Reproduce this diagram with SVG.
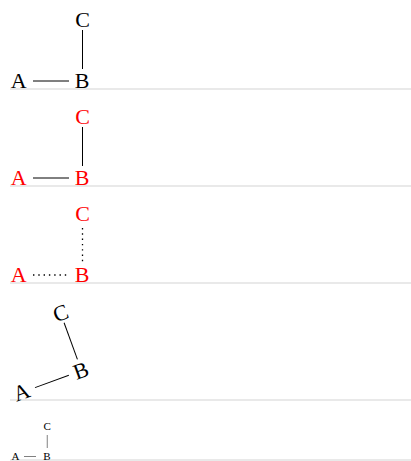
<svg xmlns="http://www.w3.org/2000/svg" width="411" height="461" viewBox="0 0 411 461">
  <style>
    .lbl { font-family: "Liberation Serif", "Times New Roman", serif; font-size: 22px; text-anchor: middle; fill: #000; }
    .red { fill: #ff0000; }
    .edge { stroke: #000; stroke-width: 1; fill: none; }
    .dot { stroke-width: 1.3; stroke-dasharray: 1.4 3.9; }
    .sep { stroke: #d4d4d4; stroke-width: 1.2; }
  </style>
  <g id="separators">
    <line class="sep" x1="10" y1="89" x2="411" y2="89"/>
    <line class="sep" x1="10" y1="186" x2="411" y2="186"/>
    <line class="sep" x1="10" y1="283" x2="411" y2="283"/>
    <line class="sep" x1="10" y1="400" x2="411" y2="400"/>
    <line class="sep" x1="10" y1="460" x2="411" y2="460"/>
  </g>

  <!-- Panel 1 -->
  <g id="panel1">
    <g id="p1-connectors">
      <line class="edge" x1="33" y1="81" x2="69" y2="81"/>
      <line class="edge" x1="82.5" y1="30" x2="82.5" y2="69"/>
    </g>
    <g id="p1-A"><text class="lbl" x="18.8" y="88">A</text></g>
    <g id="p1-B"><text class="lbl" x="82" y="88">B</text></g>
    <g id="p1-C"><text class="lbl" x="82.5" y="27">C</text></g>
  </g>

  <!-- Panel 2 -->
  <g id="panel2" transform="translate(0,97)">
    <g id="p2-connectors">
      <line class="edge" x1="33" y1="81" x2="69" y2="81"/>
      <line class="edge" x1="82.5" y1="30" x2="82.5" y2="69"/>
    </g>
    <g id="p2-A"><text class="lbl red" x="18.8" y="88">A</text></g>
    <g id="p2-B"><text class="lbl red" x="82" y="88">B</text></g>
    <g id="p2-C"><text class="lbl red" x="82.5" y="27">C</text></g>
  </g>

  <!-- Panel 3 -->
  <g id="panel3" transform="translate(0,194)">
    <g id="p3-connectors">
      <line class="edge dot" x1="33" y1="81" x2="69" y2="81"/>
      <line class="edge dot" x1="82.5" y1="34" x2="82.5" y2="69"/>
    </g>
    <g id="p3-A"><text class="lbl red" x="18.8" y="88">A</text></g>
    <g id="p3-B"><text class="lbl red" x="82" y="88">B</text></g>
    <g id="p3-C"><text class="lbl red" x="82.5" y="27">C</text></g>
  </g>

  <!-- Panel 4 (rotated) -->
  <g id="panel4" transform="translate(21.5,392) rotate(-20) translate(-18.8,-80.5)">
    <g id="p4-connectors">
      <line class="edge" x1="33" y1="81" x2="69" y2="81"/>
      <line class="edge" x1="82.5" y1="30" x2="82.5" y2="69"/>
    </g>
    <g id="p4-A"><text class="lbl" x="18.8" y="88">A</text></g>
    <g id="p4-B"><text class="lbl" x="82" y="88">B</text></g>
    <g id="p4-C"><text class="lbl" x="82.5" y="27">C</text></g>
  </g>

  <!-- Panel 5 (scaled) -->
  <g id="panel5" transform="translate(6,416) scale(0.5)">
    <g id="p5-connectors">
      <line class="edge" x1="36" y1="81" x2="60" y2="81" stroke-width="2"/>
      <line class="edge" x1="82.5" y1="38" x2="82.5" y2="64" stroke-width="2"/>
    </g>
    <g id="p5-A"><text class="lbl" x="18.8" y="88">A</text></g>
    <g id="p5-B"><text class="lbl" x="82" y="88">B</text></g>
    <g id="p5-C"><text class="lbl" x="82.5" y="27">C</text></g>
  </g>
</svg>
